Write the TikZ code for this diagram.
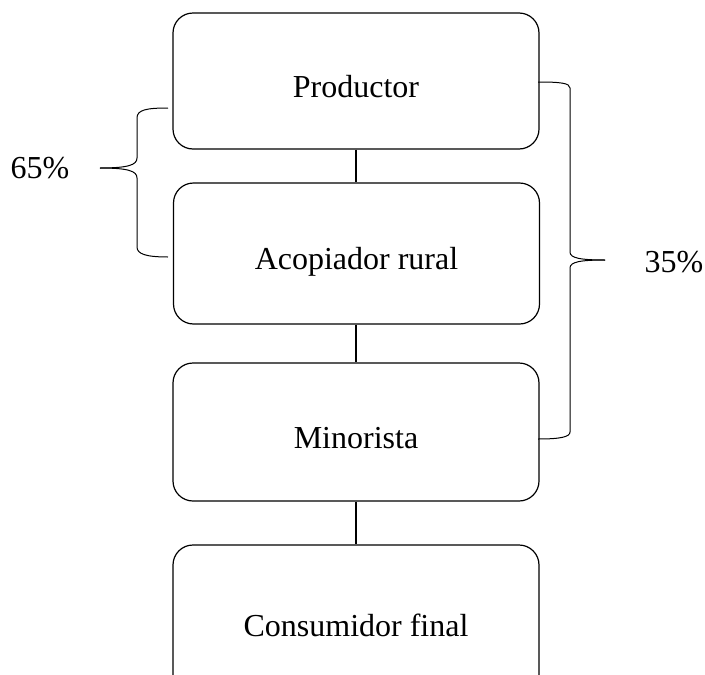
\documentclass[tikz,border=0pt]{standalone}
\usepackage{fontspec}
\setmainfont{Liberation Serif}
\begin{document}
\begin{tikzpicture}[x=1pt,y=-1pt,line width=1.2pt,
  stagebox/.style={draw, rounded corners=20pt, minimum width=366pt, inner sep=0pt,
    text height=32pt, text depth=0pt,
    font=\fontsize{32}{38}\selectfont},
  pct/.style={font=\fontsize{32}{38}\selectfont, inner sep=0pt},
  brace/.style={line width=1pt}]
\useasboundingbox (0,0) rectangle (705,675);
\node[stagebox, minimum height=136pt] (prod) at (356,81) {Productor};
\node[stagebox, minimum height=141pt] (acop) at (356.5,253.5) {Acopiador rural};
\node[stagebox, minimum height=138pt] (mino) at (356,432) {Minorista};
\node[stagebox, minimum height=150pt] (cons) at (356,620) {Consumidor final};
\draw (prod.south) -- (acop.north -| prod.south);
\draw (acop.south -| prod.south) -- (mino.north -| prod.south);
\draw (mino.south -| prod.south) -- (cons.north -| prod.south);
% left brace
\draw[brace] (168,108) .. controls (146,108) and (137,110) .. (137,118) -- (137,158)
  .. controls (137,165) and (128,168) .. (100,168);
\draw[brace] (100,168) .. controls (128,168) and (137,171) .. (137,178) -- (137,247)
  .. controls (137,254) and (146,257) .. (168,257);
% right brace
\draw[brace] (538,82) .. controls (560,82) and (570,83) .. (570,88) -- (570,252)
  .. controls (570,258) and (580,260) .. (605,260);
\draw[brace] (605,260) .. controls (580,260) and (570,262) .. (570,268) -- (570,432)
  .. controls (570,437) and (560,439) .. (538,439);
\node[pct] (p65) at (40,168) {65\%};
\node[pct] (p35) at (674,262) {35\%};
\end{tikzpicture}
\end{document}
